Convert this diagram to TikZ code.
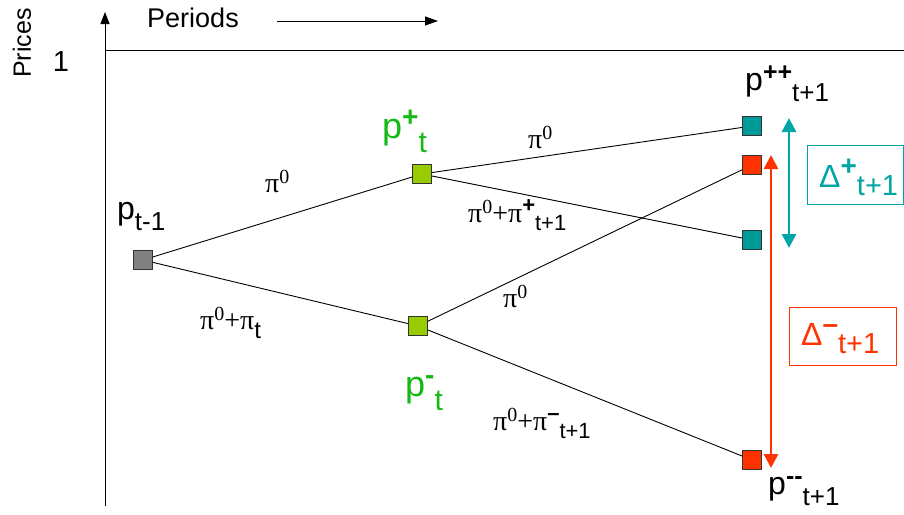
\documentclass[tikz,border=0pt]{standalone}
\usepackage{fontspec}
\setmainfont{Liberation Sans}
\newfontfamily\tms{Liberation Serif}
\usetikzlibrary{arrows.meta}

\definecolor{gfill}{RGB}{153,204,0}
\definecolor{tfill}{RGB}{0,153,153}
\definecolor{rfill}{RGB}{255,51,0}
\definecolor{grfill}{RGB}{128,128,128}
\definecolor{gtext}{RGB}{20,185,20}
\definecolor{tline}{RGB}{0,165,165}
\definecolor{rline}{RGB}{255,51,0}

\newcommand\fs[1]{\fontsize{#1}{#1}\selectfont}
\newcommand\plab[2]{{\fs{32}p}\raisebox{10pt}{\fs{25}\bfseries #1}\raisebox{-11pt}{\fs{26}#2}}
\newcommand\pglab[2]{{\fs{36}p}\raisebox{12pt}{\fs{28}\bfseries #1}\raisebox{-14pt}{\fs{30}#2}}
\newcommand\piz{{\tms\fs{28}π\raisebox{9pt}{\fs{20}0}}}
\newcommand\pizplus{\piz{\tms\fs{28}+π}}
\newcommand\dlab[2]{{\fs{32}Δ}\raisebox{12pt}{\fs{28}\bfseries #1}\raisebox{-8pt}{\fs{29}#2}}

\tikzset{
  sq/.style={draw=black!80, line width=0.8pt, minimum size=19pt, inner sep=0pt, fill=#1},
  edge/.style={draw=black, line width=0.9pt},
  lbl/.style={anchor=base west, inner sep=0pt},
  dbox/.style={draw=#1, line width=0.9pt, inner sep=0pt},
}

\begin{document}
\begin{tikzpicture}[x=1pt, y=-1pt]
\useasboundingbox (0,0) rectangle (904,514);

% axes
\coordinate (ybot) at (105,506);
\coordinate (ytop) at (105,12);
\coordinate (hl) at (105,50);
\coordinate (hr) at (904,50);
\draw[line width=1pt, -{Triangle[width=9pt,length=12pt]}] (ybot) -- (ytop);
\draw[line width=1pt] (hl) -- (hr);
\coordinate (pa1) at (277,21);
\coordinate (pa2) at (438,21);
\draw[line width=1pt, -{Triangle[width=9pt,length=13pt]}] (pa1) -- (pa2);

\node[anchor=center, inner sep=0pt] (periods) at (193,18) {\fs{27}Periods};
\node[anchor=center, inner sep=0pt, rotate=90] (prices) at (22,43) {\fs{25}Prices};
\node[anchor=center, inner sep=0pt] (one) at (61,62) {\fs{29}1};

% nodes
\node[sq=grfill] (a) at (143,260) {};
\node[sq=gfill] (bp) at (422,174) {};
\node[sq=gfill] (bm) at (418,326) {};
\node[sq=tfill] (c1) at (752,126) {};
\node[sq=rfill] (c2) at (752,165) {};
\node[sq=tfill] (c3) at (752,240) {};
\node[sq=rfill] (c4) at (752,460) {};

% edges
\draw[edge] (a) -- (bp);
\draw[edge] (a) -- (bm);
\draw[edge] (bp) -- (c1);
\draw[edge] (bp) -- (c3);
\draw[edge] (bm) -- (c2);
\draw[edge] (bm) -- (c4);

% node labels
\node[lbl] (la) at (117,219) {\plab{}{t-1}};
\node[lbl] (lc1) at (745,90) {\plab{++}{t+1}};
\node[lbl] (lc4) at (768,494) {\plab{{-}{-}}{t+1}};
\node[lbl, text=gtext] (lbp) at (382,138) {\pglab{+}{t}};
\node[lbl, text=gtext] (lbm) at (405,396) {\pglab{-}{t}};

% edge labels
\node[lbl] (e1) at (265,192) {\piz};
\node[lbl] (e2) at (200,329) {\pizplus\raisebox{-9pt}{\fs{24}t}};
\node[lbl] (e3) at (528,148) {\piz};
\node[lbl] (e4) at (468,222) {\pizplus\raisebox{10pt}{\fs{22}\bfseries +}\raisebox{-8pt}{\fs{22}t+1}};
\node[lbl] (e5) at (503,307) {\piz};
\node[lbl] (e6) at (493,430) {\pizplus\raisebox{10pt}{\fs{22}\bfseries –}\raisebox{-8pt}{\fs{22}t+1}};

% delta arrows
\coordinate (t1) at (789,118);
\coordinate (t2) at (789,248);
\draw[tline, line width=2.5pt, {Triangle[width=14pt,length=14pt]}-{Triangle[width=14pt,length=14pt]}] (t1) -- (t2);
\coordinate (r1) at (771,155);
\coordinate (r2) at (771,468);
\draw[rline, line width=2.5pt, {Triangle[width=14pt,length=14pt]}-{Triangle[width=14pt,length=14pt]}] (r1) -- (r2);

% delta boxes
\draw[dbox=tline] (807,145) rectangle (903,204);
\node[lbl, text=tline] (dt) at (819,187) {\dlab{+}{t+1}};
\draw[dbox=rline] (789,307) rectangle (896,365);
\node[lbl, text=rline] (dr) at (801,345) {\dlab{–}{t+1}};
\end{tikzpicture}
\end{document}
